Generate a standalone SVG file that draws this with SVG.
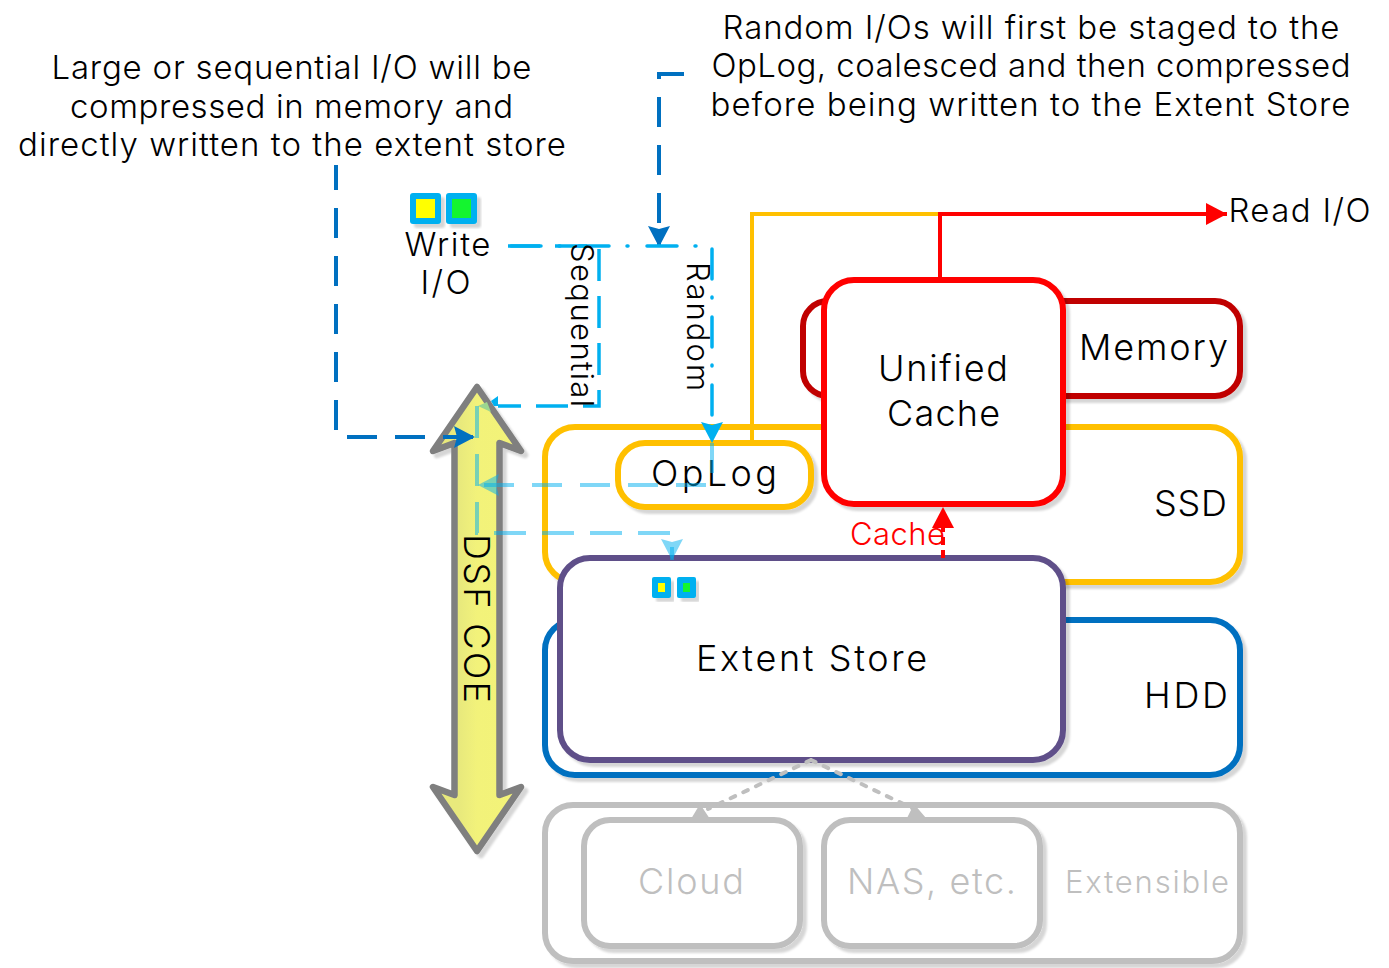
<svg xmlns="http://www.w3.org/2000/svg" width="1389" height="968" viewBox="0 0 1389 968">
<style>
text{font-family:"Inter","Noto Sans","Liberation Sans",sans-serif;font-weight:300;font-size:33px;fill:#000}
.lg{font-size:36px}
.sm{font-size:31px}
.g{fill:#BFBFBF}
.box{fill:#fff;stroke-width:6;filter:url(#sh)}
.sky{stroke:#00B0F0;stroke-width:3.5}
.pale{stroke:#00B0F0;stroke-width:4;stroke-opacity:.5}
.dk{stroke:#0070C0;stroke-width:4;stroke-dasharray:30 18}
.ic{fill:#00B0F0;filter:url(#sh)}
</style>
<defs>
<filter id="sh" x="-10%" y="-10%" width="125%" height="125%"><feDropShadow dx="4" dy="4" stdDeviation="1.2" flood-color="#000" flood-opacity=".16"/></filter>
<linearGradient id="yl" x1="0" x2="1" y1="0" y2="0"><stop offset=".3" stop-color="#E8E97C"/><stop offset=".5" stop-color="#F2F27A"/><stop offset="1" stop-color="#F3F378"/></linearGradient>
<marker id="mDk" markerUnits="userSpaceOnUse" markerWidth="22" markerHeight="24" refX="21" refY="12" orient="auto"><path d="M0 1L21 12L0 23L3 12Z" fill="#0070C0"/></marker>
<marker id="mSky" markerUnits="userSpaceOnUse" markerWidth="22" markerHeight="24" refX="21" refY="12" orient="auto"><path d="M0 1L21 12L0 23L3 12Z" fill="#00B0F0"/></marker>
<marker id="mPale" markerUnits="userSpaceOnUse" markerWidth="22" markerHeight="24" refX="21" refY="12" orient="auto"><path d="M0 1L21 12L0 23L3 12Z" fill="#00B0F0" fill-opacity=".5"/></marker>
<marker id="mRed" markerUnits="userSpaceOnUse" markerWidth="22" markerHeight="24" refX="21" refY="12" orient="auto"><path d="M0 1L21 12L0 23Z" fill="#FF0000"/></marker>
</defs>

<g id="note-left">
<text x="51.5" y="79" textLength="480">Large or sequential I/O will be</text>
<text x="70" y="118" textLength="443">compressed in memory and</text>
<text x="18" y="156" textLength="548">directly written to the extent store</text>
</g>
<g id="note-right">
<text x="722.5" y="39" textLength="617">Random I/Os will first be staged to the</text>
<text x="711.5" y="77" textLength="639">OpLog, coalesced and then compressed</text>
<text x="710.5" y="116" textLength="640">before being written to the Extent Store</text>
</g>

<g id="write-io">
<rect class="ic" x="410" y="193" width="31" height="31" rx="3"/><rect x="416" y="199" width="19" height="19" fill="#FFFF00"/>
<rect class="ic" x="446" y="193" width="31" height="31" rx="3"/><rect x="452" y="199" width="19" height="19" fill="#14F52F"/>
<text x="404.5" y="256" textLength="86">Write</text>
<text x="420.5" y="294" textLength="50">I/O</text>
</g>
<text id="read-io" x="1228.5" y="222" textLength="142">Read I/O</text>

<g id="memory"><rect class="box" x="803" y="301" width="437" height="95" rx="25" stroke="#C00000"/><text class="lg" x="1079" y="360" textLength="149">Memory</text></g>
<g id="ssd"><rect class="box" x="545" y="427" width="695" height="155" rx="30" stroke="#FFC000"/><text class="lg" x="1154" y="516" textLength="73">SSD</text></g>
<g id="hdd"><rect class="box" x="545" y="620" width="695" height="155" rx="30" stroke="#0070C0"/><text class="lg" x="1144" y="708" textLength="84">HDD</text></g>
<g id="extensible"><rect class="box" x="545" y="805" width="695" height="156" rx="28" stroke="#BFBFBF"/><text class="g sm" x="1065" y="893" textLength="164">Extensible</text></g>
<g id="cloud"><rect class="box" x="584" y="820" width="216" height="126" rx="26" stroke="#BFBFBF"/><text class="g lg" x="638" y="894" textLength="106">Cloud</text></g>
<g id="nas"><rect class="box" x="824" y="820" width="216" height="126" rx="26" stroke="#BFBFBF"/><text class="g lg" x="847" y="894" textLength="169">NAS, etc.</text></g>
<g id="oplog"><rect class="box" x="618" y="443" width="193" height="64" rx="27" stroke="#FFC000"/><text class="lg" x="651" y="486" textLength="126">OpLog</text></g>
<g id="extent-store"><rect class="box" x="560" y="558" width="503" height="202" rx="30" stroke="#5F5089"/>
<rect class="ic" x="652" y="577" width="19" height="21" rx="2"/><rect x="658" y="583" width="7" height="9" fill="#FFFF00"/>
<rect class="ic" x="677" y="577" width="19" height="21" rx="2"/><rect x="683" y="583" width="7" height="9" fill="#14F52F"/>
<text class="lg" x="696" y="671" textLength="231">Extent Store</text></g>
<g id="unified-cache"><rect class="box" x="824" y="280" width="239" height="224" rx="30" stroke="#FF0000"/>
<text class="lg" x="878" y="381" textLength="130">Unified</text><text class="lg" x="887" y="426" textLength="113">Cache</text></g>
<g id="dsf-core"><path d="M477 387L521 451L499.5 443V795L521 787L477 851L433 787L454.5 795V443L433 451Z" fill="url(#yl)" stroke="#7F7F7F" stroke-width="6.5" stroke-linejoin="round" filter="url(#sh)"/>
<text class="lg" transform="translate(464 534) rotate(90)" x="0" y="0" textLength="169">DSF COE</text></g>

<g id="connectors" fill="none">
<path d="M752 443V214H940" stroke="#FFC000" stroke-width="4"/>
<path d="M940 280V214H1227" stroke="#FF0000" stroke-width="4" marker-end="url(#mRed)"/>
<path d="M943 558V507" stroke="#FF0000" stroke-width="4" stroke-dasharray="8 5" marker-end="url(#mRed)"/>
<path d="M336 165V437H475" class="dk" stroke-dashoffset="5" marker-end="url(#mDk)"/>
<path d="M684 74H659V247" class="dk" marker-end="url(#mDk)"/>
<path d="M508 246H599V406H498" class="sky" stroke-dasharray="32 15"/>
<path d="M511 246H712V443" class="sky" stroke-dasharray="30 18 1 19" stroke-linecap="round" marker-end="url(#mSky)"/>
<path d="M498 396L491 401L494 406H498Z" fill="#00B0F0"/>
<path d="M478 406L487 402L491 412Z" fill="#9BD68F"/>
<path d="M712 443V485H478" class="pale" stroke-dasharray="30 18" marker-end="url(#mPale)"/>
<path d="M477 406V533H672V560" class="pale" stroke-dasharray="32 16" marker-end="url(#mPale)"/>
<path d="M811 760L708 809M811 760L914 809" stroke="#BFBFBF" stroke-width="4" stroke-dasharray="5 9" stroke-linecap="round"/>
<path d="M700 804L691 819H710Z M914 804L907 818H926Z" fill="#BFBFBF"/>
</g>

<g id="labels">
<text class="sm" transform="translate(571 243) rotate(90)" textLength="164">Sequential</text>
<text class="sm" transform="translate(687 262) rotate(90)" textLength="129">Random</text>
<text class="sm" x="850" y="545" style="fill:#FF0000" textLength="95">Cache</text>
</g>
</svg>
